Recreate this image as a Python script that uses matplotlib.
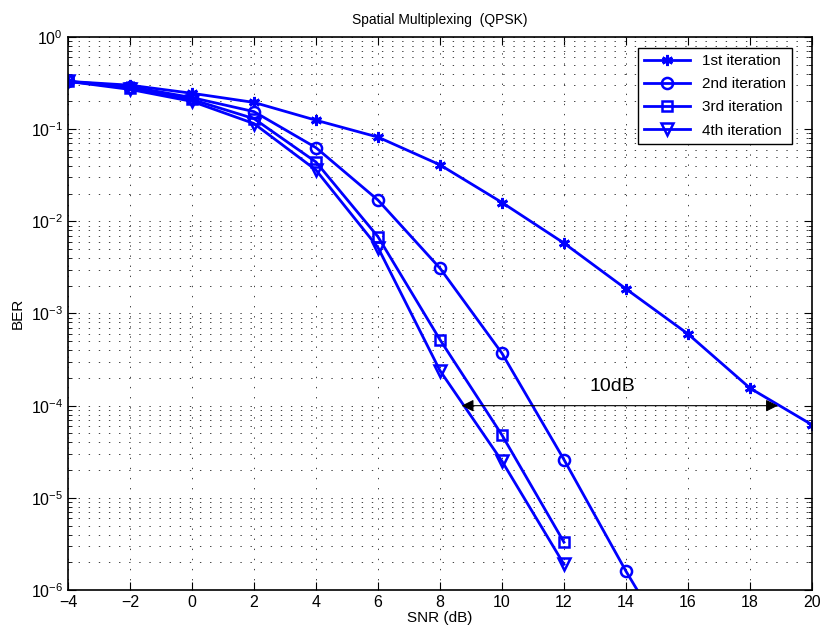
import numpy as np
import matplotlib
matplotlib.use('Agg')
import matplotlib.pyplot as plt
from matplotlib.ticker import LogLocator, NullFormatter

plt.rcParams['font.family'] = ['Liberation Sans', 'DejaVu Sans']

# values
snr = [-4, -2, 0, 2, 4, 6, 8, 10, 12, 14, 16, 18, 20]
ber_it1 = [0.33, 0.30, 0.245, 0.195, 0.125, 0.082, 0.041, 0.016, 5.8e-3,
           1.85e-3, 6.0e-4, 1.55e-4, 6.2e-5]
snr_it2 = [-4, -2, 0, 2, 4, 6, 8, 10, 12, 14, 16]
ber_it2 = [0.33, 0.29, 0.22, 0.155, 0.063, 0.017, 3.1e-3, 3.7e-4, 2.6e-5,
           1.6e-6, 1.2e-7]
snr_it34 = [-4, -2, 0, 2, 4, 6, 8, 10, 12]
ber_it3 = [0.33, 0.28, 0.21, 0.13, 0.044, 6.8e-3, 5.2e-4, 4.8e-5, 3.3e-6]
ber_it4 = [0.33, 0.27, 0.20, 0.115, 0.036, 5.2e-3, 2.4e-4, 2.5e-5, 1.9e-6]

labels = ['1st iteration', '2nd iteration', '3rd iteration', '4th iteration']
blue = '#0000ff'

fig = plt.figure(figsize=(8.22, 6.28), dpi=100)
ax = fig.add_axes([0.0827, 0.0605, 0.9051, 0.8806])

ax.semilogy(snr, ber_it1, color=blue, lw=2, marker=(6, 2, 0), ms=8,
            mew=2, label=labels[0])
ax.semilogy(snr_it2, ber_it2, color=blue, lw=2, marker='o', ms=8,
            mfc='none', mew=1.8, label=labels[1])
ax.semilogy(snr_it34, ber_it3, color=blue, lw=2, marker='s', ms=7,
            mfc='none', mew=1.8, label=labels[2])
ax.semilogy(snr_it34, ber_it4, color=blue, lw=2, marker='v', ms=8,
            mfc='none', mew=1.8, label=labels[3])

ax.set_xlim(-4, 20)
ax.set_ylim(1e-6, 1)
ax.set_xticks(np.arange(-4, 21, 2))
ax.yaxis.set_major_locator(LogLocator(base=10, numticks=10))
ax.yaxis.set_minor_locator(LogLocator(base=10, subs=np.arange(2, 10), numticks=20))
ax.yaxis.set_minor_formatter(NullFormatter())

# matlab-like sparse dotted grid
ax.grid(True, which='major', ls=(0, (1.4, 9)), color='0.25', lw=0.7)
ax.grid(True, which='minor', axis='y', ls=(0, (1.4, 9)), color='0.25', lw=0.7)
ax.set_axisbelow(True)
ax.tick_params(which='both', direction='in', top=True, right=True,
               labelsize=11.5)
ax.tick_params(which='major', length=6)
ax.tick_params(which='minor', length=3)
for sp in ax.spines.values():
    sp.set_linewidth(1.2)

# 10 dB gap marker
ax.annotate('', xy=(8.7, 1e-4), xytext=(18.9, 1e-4),
            arrowprops=dict(arrowstyle='<|-|>', color='k', lw=0.8,
                            mutation_scale=18, shrinkA=0, shrinkB=0))
ax.text(13.55, 1.6e-4, '10dB', fontsize=14, ha='center', va='center')

ax.set_xlabel('SNR (dB)', fontsize=11, labelpad=1)
ax.set_ylabel('BER', fontsize=11, labelpad=4)
ax.set_title('Spatial Multiplexing  (QPSK)', fontsize=10, pad=9)

leg = ax.legend(loc='upper right', bbox_to_anchor=(0.973, 0.980),
                borderaxespad=0, fontsize=11, fancybox=False,
                framealpha=1, edgecolor='k', handlelength=3,
                labelspacing=0.6)
leg.get_frame().set_linewidth(1.0)

fig.savefig('out.png', dpi=100)
plt.close(fig)
